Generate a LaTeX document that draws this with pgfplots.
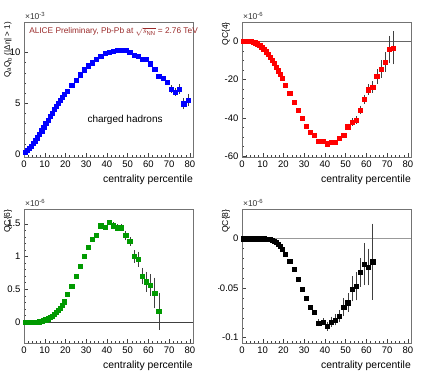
\documentclass[border=0pt]{standalone}
\usepackage{fontspec}
\setmainfont{Liberation Sans}
\usepackage{pgfplots}
\pgfplotsset{compat=1.18}
\definecolor{aliceblue}{HTML}{0000FF}
\definecolor{alicered}{HTML}{FF0000}
\definecolor{alicegreen}{HTML}{009A00}
\definecolor{prelim}{HTML}{9A2A2A}

\pgfplotsset{rootpad/.style={scale only axis,width=169pt,
  xmin=0,xmax=81.5,xtick={0,10,...,80},minor x tick num=4,
  tick align=inside,xtick pos=left,ytick pos=left,
  major tick length=4pt,minor tick length=2pt,
  tick style={black!75,line width=0.4pt},
  axis line style={black!55,line width=0.6pt},
  scaled y ticks=false,clip=false,
  /pgf/number format/assume math mode=true,
  ticklabel style={font=\fontsize{9.5}{11}\selectfont},
  xlabel={centrality percentile},
  xlabel style={at={(axis description cs:1,-0.17)},anchor=east,inner sep=0pt,font=\fontsize{10.4}{12}\selectfont},
  ylabel style={at={(axis description cs:-0.095,1)},anchor=east,inner sep=0pt,font=\fontsize{8.5}{10}\selectfont}},
  pts/.style={only marks,mark=square*,mark size=2.1pt,color=#1},
  ptserr/.style={pts=#1,error bars/.cd,y dir=both,y explicit,
  error bar style={black!75,line width=0.5pt},
  error mark options={black!75,mark size=1.6pt,line width=0.5pt}},
  zeroline/.style={no marks,line width=0.8pt,#1}}

\newcommand{\expo}[1]{\node[anchor=base west,inner sep=0pt,font=\fontsize{8.5}{10}\selectfont,black!80] at ([yshift=3pt]rel axis cs:0.005,1) {×10\textsuperscript{#1}};}

\begin{document}
\begin{tikzpicture}
\useasboundingbox (0,0) rectangle (436pt,376pt);

% top left
\begin{scope}
\clip (0,188pt) rectangle (218pt,376pt);
\begin{axis}[rootpad,at={(24pt,219pt)},anchor=south west,height=135pt,
  ymin=-0.3,ymax=13,ytick={0,5,10},yticklabels={0,5,10},minor y tick num=4,
  ylabel={Q\textsubscript{a}Q\textsubscript{b} (|Δη| > 1)},
  ylabel style={font=\fontsize{8}{9}\selectfont}]
\addplot[pts=aliceblue] coordinates {
(0.5,0.2) (1.5,0.38) (2.5,0.6) (3.5,0.8) (4.5,1.05) (5.5,1.3) (6.5,1.6) (7.5,1.95)
(8.5,2.3) (9.5,2.65) (10.5,3.0) (11.5,3.35) (12.5,3.7) (13.5,4.05) (14.5,4.4)
(15.5,4.72) (16.5,5.02) (17.5,5.32) (18.5,5.62) (19.5,5.9)
(21,6.2) (23,6.75) (25,7.3) (27,7.8) (29,8.3) (31,8.7) (33,9.0) (35,9.35)
(37,9.65) (39,9.9) (41,10.03) (43,10.13) (45,10.2) (47,10.22) (49,10.22)
(51,10.0) (53,9.75) (55,9.67) (57,9.3) (59,9.3) (61,8.9) (63,8.36) (65,7.64)
(67,7.44) (69,7.05)};
\addplot[ptserr=aliceblue] coordinates {
(71,6.4) +- (0,0.2) (73,6.1) +- (0,0.25) (75,6.4) +- (0,0.35)
(77,4.95) +- (0,0.4) (79,5.3) +- (0,0.45)};
\expo{-3}
\node[anchor=west,inner sep=0pt,prelim,font=\fontsize{8.3}{10}\selectfont] at (rel axis cs:0.03,0.926)
  {ALICE Preliminary, Pb-Pb at $\sqrt{s_{\mathrm{NN}}}$ = 2.76 TeV};
\node[font=\fontsize{10}{12}\selectfont] at (rel axis cs:0.598,0.274) {charged hadrons};
\end{axis}
\end{scope}

% top right
\begin{scope}
\clip (218pt,188pt) rectangle (436pt,376pt);
\begin{axis}[rootpad,at={(242pt,219pt)},anchor=south west,height=135pt,
  ymin=-60.5,ymax=10,ytick={-60,-40,-20,0},yticklabels={-60,-40,-20,0},minor y tick num=3,
  ylabel={QC\{4\}}]
\addplot[zeroline=black!60] coordinates {(0,0) (81.5,0)};
\addplot[pts=alicered] coordinates {
(0.5,0) (1.5,0) (2.5,-0.05) (3.5,-0.1) (4.5,-0.2) (5.5,-0.4) (6.5,-0.8) (7.5,-1.3)
(8.5,-2.0) (9.5,-3.0) (10.5,-4.1) (11.5,-5.5) (12.5,-6.9) (13.5,-8.4) (14.5,-10.0)
(15.5,-11.7) (16.5,-13.5) (17.5,-15.4) (18.5,-17.4) (19.5,-19.5)
(21,-22.8) (23,-27.1) (25,-31.7) (27,-35.9) (29,-40.4) (31,-44.3) (33,-47.4)
(35,-49.1) (37,-52.2) (39,-52.2) (41,-53.6) (43,-52.9) (45,-52.6) (47,-50.5)
(49,-49.0)};
\addplot[ptserr=alicered] coordinates {
(51,-44.7) +- (0,0.8) (53,-42.2) +- (0,1.2) (55,-41.2) +- (0,1.2)
(57,-35.9) +- (0,1.4) (59,-30.4) +- (0,1.6) (61,-25.3) +- (0,2.0)
(63,-24.0) +- (0,2.2) (65,-18.4) +- (0,2.9) (67,-14.5) +- (0,3.9)
(69,-10.9) +- (0,4.3) (71,-4.3) +- (0,6.2) (73,-3.5) +- (0,7.8)};
\expo{-6}
\end{axis}
\end{scope}

% bottom left
\begin{scope}
\clip (0,0) rectangle (218pt,188pt);
\begin{axis}[rootpad,at={(24pt,32.7pt)},anchor=south west,height=134pt,
  ymin=-0.325,ymax=1.72,ytick={0,0.5,1,1.5},yticklabels={0,0.5,1,1.5},minor y tick num=4,
  ylabel={QC\{6\}}]
\addplot[zeroline=black!75] coordinates {(0,0) (81.5,0)};
\addplot[pts=alicegreen] coordinates {
(0.5,0) (1.5,0) (2.5,0) (3.5,0) (4.5,0) (5.5,0) (6.5,0.002) (7.5,0.006)
(8.5,0.012) (9.5,0.022) (10.5,0.035) (11.5,0.05) (12.5,0.07) (13.5,0.093)
(14.5,0.117) (15.5,0.145) (16.5,0.175) (17.5,0.21) (18.5,0.255) (19.5,0.31)
(21,0.42) (23,0.55) (25,0.70) (27,0.855) (29,1.0) (31,1.145) (33,1.26) (35,1.33)
(37,1.47) (39,1.45) (41,1.52)};
\addplot[ptserr=alicegreen] coordinates {
(43,1.47) +- (0,0.03) (45,1.44) +- (0,0.03)
(47,1.44) +- (0,0.03) (49,1.32) +- (0,0.05) (51,1.23) +- (0,0.04)
(53,1.0) +- (0,0.07) (55,0.96) +- (0,0.09) (57,0.70) +- (0,0.10)
(59,0.615) +- (0,0.13) (61,0.565) +- (0,0.14) (63,0.443) +- (0,0.21)
(65,0.163) +- (0,0.26)};
\expo{-6}
\end{axis}
\end{scope}

% bottom right
\begin{scope}
\clip (218pt,0) rectangle (436pt,188pt);
\begin{axis}[rootpad,at={(242pt,32.7pt)},anchor=south west,height=134pt,
  ymin=-0.1057,ymax=0.0297,ytick={-0.1,-0.05,0},yticklabels={-0.1,-0.05,0},minor y tick num=4,
  ylabel={QC\{8\}}]
\addplot[zeroline=black!40] coordinates {(0,0) (81.5,0)};
\addplot[pts=black] coordinates {
(0.5,0) (1.5,0) (2.5,0) (3.5,0) (4.5,0) (5.5,0) (6.5,0) (7.5,0) (8.5,0) (9.5,0)
(10.5,-0.0001) (11.5,-0.0002) (12.5,-0.0004) (13.5,-0.0007) (14.5,-0.0014)
(15.5,-0.0024) (16.5,-0.0038) (17.5,-0.0055) (18.5,-0.0077) (19.5,-0.0103)
(21,-0.0158) (23,-0.023) (25,-0.031) (27,-0.041) (29,-0.051) (31,-0.060)
(33,-0.069) (35,-0.074)};
\addplot[ptserr=black] coordinates {
(37,-0.085) +- (0,0.002) (39,-0.084) +- (0,0.002)
(41,-0.0886) +- (0,0.003) (43,-0.084) +- (0,0.0037) (45,-0.082) +- (0,0.004)
(47,-0.0785) +- (0,0.0045) (49,-0.069) +- (0,0.0076) (51,-0.0646) +- (0,0.008)
(53,-0.0508) +- (0,0.011) (55,-0.0482) +- (0,0.0126) (57,-0.034) +- (0,0.013)
(59,-0.0256) +- (0,0.0197) (61,-0.0286) +- (0,0.017) (63,-0.0232) +- (0,0.0367)};
\expo{-6}
\end{axis}
\end{scope}
\end{tikzpicture}
\end{document}
